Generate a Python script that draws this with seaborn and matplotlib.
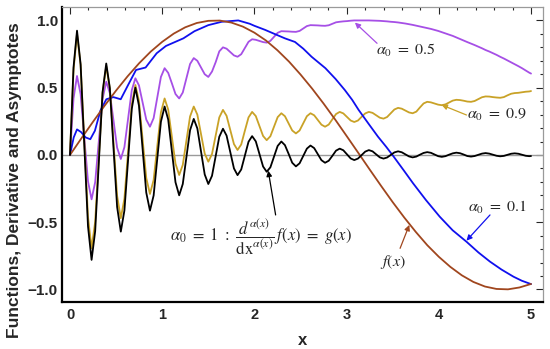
import numpy as np
import pandas as pd
import matplotlib
matplotlib.use("Agg")
import matplotlib.pyplot as plt
import seaborn as sns

# shared x grid for the oscillating curves (g(x), alpha0 = 0.9, alpha0 = 0.5)
x_osc = [0, 0.038, 0.076, 0.115, 0.155, 0.195, 0.234, 0.273, 0.313, 0.353,
         0.393, 0.432, 0.472, 0.511, 0.551, 0.59, 0.63, 0.67, 0.709, 0.748,
         0.788, 0.827, 0.867, 0.907, 0.946, 0.986, 1.026, 1.065, 1.105, 1.144,
         1.184, 1.223, 1.263, 1.302, 1.342, 1.381, 1.421, 1.461, 1.5, 1.54,
         1.58, 1.619, 1.659, 1.698, 1.738, 1.778,
         1.817, 1.857, 1.896, 1.936, 1.975, 2.015, 2.054, 2.094, 2.133, 2.173,
         2.212, 2.252, 2.292, 2.331, 2.371, 2.41, 2.45, 2.49, 2.529, 2.569,
         2.608, 2.648, 2.687, 2.727, 2.766, 2.806, 2.846, 2.885, 2.925, 2.964,
         3.004, 3.044, 3.083, 3.123, 3.162, 3.202, 3.241, 3.281, 3.32, 3.36,
         3.4, 3.439, 3.479, 3.518, 3.558, 3.598, 3.637, 3.677, 3.716, 3.756,
         3.795, 3.835, 3.874, 3.914, 3.953, 3.993, 4.032, 4.072, 4.111, 4.151,
         4.19, 4.23, 4.27, 4.309, 4.349, 4.388, 4.428, 4.468, 4.507, 4.547,
         4.586, 4.626, 4.665, 4.705, 4.744, 4.784, 4.823, 4.863, 4.902, 4.942,
         4.98, 5.0]

g_alpha1 = [0, 0.65, 0.924, 0.674, 0.072, -0.53, -0.78, -0.566, -0.05, 0.466,
            0.68, 0.497, 0.055, -0.387, -0.57, -0.413, -0.035, 0.343, 0.50, 0.366,
            0.043, -0.28, -0.414, -0.301, -0.027, 0.247, 0.36, 0.263, 0.03, -0.203,
            -0.30, -0.216, -0.016, 0.184, 0.268, 0.197, 0.026, -0.145, -0.216, -0.155,
            -0.01, 0.135, 0.195, 0.144, 0.022, -0.10,
            -0.15, -0.108, -0.005, 0.098, 0.14, 0.101, 0.008, -0.086, -0.125, -0.092,
            -0.013, 0.067, 0.10, 0.073, 0.008, -0.058, -0.085, -0.062, -0.008, 0.047,
            0.07, 0.051, 0.006, -0.039, -0.058, -0.043, -0.006, 0.032, 0.047, 0.035,
            0.005, -0.026, -0.038, -0.027, -0.001, 0.025, 0.036, 0.027, 0.005, -0.018,
            -0.027, -0.019, 0.0, 0.019, 0.027, 0.020, 0.005, -0.011, -0.018, -0.012,
            0.002, 0.015, 0.021, 0.016, 0.004, -0.009, -0.014, -0.009, 0.002, 0.012,
            0.017, 0.013, 0.003, -0.008, -0.012, -0.008, 0.001, 0.010, 0.014, 0.010,
            0.002, -0.006, -0.01, -0.007, 0.001, 0.009, 0.012, 0.009, 0.002, -0.006,
            -0.009, -0.008]

alpha09 = [0, 0.63, 0.90, 0.667, 0.103, -0.46, -0.694, -0.496, -0.017, 0.462,
           0.66, 0.494, 0.095, -0.304, -0.47, -0.325, 0.025, 0.375, 0.52, 0.401,
           0.115, -0.171, -0.29, -0.186, 0.065, 0.316, 0.42, 0.337, 0.136, -0.065,
           -0.149, -0.074, 0.106, 0.286, 0.36, 0.30, 0.155, 0.01, -0.05, 0.007,
           0.143, 0.279, 0.335, 0.291, 0.186, 0.081,
           0.037, 0.078, 0.179, 0.279, 0.32, 0.289, 0.215, 0.141, 0.11, 0.139,
           0.21, 0.281, 0.31, 0.288, 0.235, 0.182, 0.16, 0.182, 0.235, 0.288,
           0.31, 0.295, 0.26, 0.225, 0.21, 0.226, 0.265, 0.304, 0.32, 0.309,
           0.283, 0.256, 0.245, 0.256, 0.283, 0.309, 0.32, 0.313, 0.295, 0.277,
           0.27, 0.282, 0.31, 0.338, 0.35, 0.344, 0.33, 0.316, 0.31, 0.322,
           0.353, 0.383, 0.395, 0.391, 0.383, 0.374, 0.37, 0.376, 0.39, 0.404,
           0.41, 0.408, 0.403, 0.397, 0.395, 0.401, 0.415, 0.429, 0.435, 0.434,
           0.43, 0.427, 0.425, 0.430, 0.443, 0.455, 0.46, 0.462, 0.466, 0.470,
           0.472, 0.475]

alpha05 = [0, 0.42, 0.587, 0.452, 0.128, -0.196, -0.33, -0.202, 0.107, 0.416,
           0.545, 0.46, 0.257, 0.054, -0.03, 0.058, 0.27, 0.482, 0.57, 0.517,
           0.39, 0.263, 0.21, 0.274, 0.427, 0.58, 0.645, 0.61, 0.532, 0.453,
           0.42, 0.464, 0.57, 0.676, 0.72, 0.70, 0.65, 0.60, 0.58, 0.62,
           0.69, 0.77, 0.80, 0.79, 0.765, 0.74,
           0.73, 0.749, 0.795, 0.841, 0.86, 0.856, 0.848, 0.839, 0.835, 0.848,
           0.878, 0.908, 0.92, 0.919, 0.918, 0.916, 0.915, 0.922, 0.94, 0.958,
           0.965, 0.964, 0.963, 0.961, 0.96, 0.964, 0.975, 0.986, 0.99, 0.993,
           0.995, 0.998, 1.0, 1.0, 1.0, 1.0, 1.0, 0.999, 0.998, 0.997,
           0.995, 0.993, 0.99, 0.988, 0.985, 0.981, 0.977, 0.972, 0.967, 0.961,
           0.955, 0.949, 0.943, 0.937, 0.93, 0.922, 0.913, 0.904, 0.895, 0.885,
           0.874, 0.862, 0.85, 0.839, 0.828, 0.817, 0.805, 0.793, 0.78, 0.769,
           0.757, 0.744, 0.73, 0.717, 0.703, 0.689, 0.675, 0.66, 0.645, 0.628,
           0.612, 0.605]

# alpha0 = 0.1
x_a01 = [0, 0.04, 0.076, 0.12, 0.17, 0.22, 0.27, 0.33, 0.394, 0.47, 0.55, 0.63,
         0.716, 0.82, 0.94, 1.04, 1.14, 1.23, 1.35, 1.5, 1.645, 1.825, 1.95,
         2.0, 2.115, 2.2, 2.33, 2.44, 2.53, 2.62, 2.77, 2.88, 2.98, 3.06, 3.13,
         3.24, 3.34, 3.43, 3.51, 3.62, 3.72, 3.86, 4.01, 4.15, 4.30, 4.43,
         4.555, 4.68, 4.81, 4.9, 5.0]
alpha01 = [0, 0.13, 0.19, 0.17, 0.13, 0.117, 0.18, 0.33, 0.414, 0.43, 0.414, 0.52,
           0.632, 0.65, 0.756, 0.81, 0.84, 0.867, 0.92, 0.965, 0.99, 1.0, 0.975,
           0.96, 0.93, 0.905, 0.867, 0.84, 0.79, 0.73, 0.645, 0.565, 0.483, 0.41, 0.335,
           0.23, 0.136, 0.06, -0.012, -0.115, -0.21, -0.335, -0.459, -0.56, -0.645, -0.725,
           -0.793, -0.852, -0.905, -0.935, -0.96]

# f(x)
x_f = [0, 0.125, 0.25, 0.375, 0.5, 0.625, 0.75, 0.875, 1.0, 1.125, 1.25, 1.375,
       1.5, 1.625, 1.75, 1.875, 2.0, 2.125, 2.25, 2.375, 2.5, 2.625, 2.75, 2.875,
       3.0, 3.125, 3.25, 3.375, 3.5, 3.625, 3.75, 3.875, 4.0, 4.125, 4.25, 4.375,
       4.5, 4.625, 4.75, 4.875, 5.0]
f_vals = [0, 0.125, 0.247, 0.366, 0.479, 0.585, 0.682, 0.768, 0.841, 0.902, 0.949, 0.981,
          0.997, 0.999, 0.984, 0.954, 0.909, 0.851, 0.778, 0.694, 0.598, 0.494, 0.382, 0.264,
          0.141, 0.017, -0.108, -0.231, -0.351, -0.465, -0.572, -0.671, -0.757, -0.832, -0.895, -0.944,
          -0.978, -0.996, -0.999, -0.985, -0.959]

c_black = "#000000"
c_gold = "#c9a227"
c_purple = "#a64fe6"
c_blue = "#1010ee"
c_brown = "#a0461e"

sns.set_style("white")
plt.rcParams["mathtext.fontset"] = "stix"
plt.rcParams["font.family"] = ["Liberation Sans", "DejaVu Sans"]

osc = pd.DataFrame({"x": x_osc, "g": g_alpha1, "a09": alpha09, "a05": alpha05})

fig = plt.figure(figsize=(5.5, 3.49), dpi=100)
ax = fig.add_axes([0.1127, 0.1347, 0.8746, 0.8453])

ax.axhline(0, color="#9a9a9a", lw=1.0, zorder=1)

lw = 1.3
sns.lineplot(data=osc, x="x", y="a05", color=c_purple, lw=lw, sort=False, estimator=None, ax=ax)
sns.lineplot(data=osc, x="x", y="a09", color=c_gold, lw=lw, sort=False, estimator=None, ax=ax)
sns.lineplot(x=x_a01, y=alpha01, color=c_blue, lw=lw, sort=False, estimator=None, ax=ax)
sns.lineplot(x=x_f, y=f_vals, color=c_brown, lw=lw, sort=False, estimator=None, ax=ax)
sns.lineplot(data=osc, x="x", y="g", color=c_black, lw=lw, sort=False, estimator=None, ax=ax)

ax.set_xlim(-0.087, 5.13)
ax.set_ylim(-1.093, 1.10)
ax.set_xticks([0, 1, 2, 3, 4, 5])
ax.set_yticks([-1.0, -0.5, 0.0, 0.5, 1.0])
ax.set_xticks(np.arange(0, 5.01, 0.2), minor=True)
ax.set_yticks(np.arange(-1.0, 1.01, 0.1), minor=True)

ax.tick_params(which="both", direction="in", top=True, right=True, width=0.8)
ax.tick_params(which="major", length=5)
ax.tick_params(which="minor", length=2.5)
ax.tick_params(axis="x", labelsize=10.5, pad=4)
ax.tick_params(axis="y", labelsize=11, pad=3)
for lab in ax.get_xticklabels() + ax.get_yticklabels():
    lab.set_fontweight("bold")
for t in ax.xaxis.get_major_ticks() + ax.xaxis.get_minor_ticks():
    t.tick2line.set_color("#8c8c8c")
for t in ax.yaxis.get_major_ticks() + ax.yaxis.get_minor_ticks():
    t.tick2line.set_color("#8c8c8c")

for side in ["left", "bottom"]:
    ax.spines[side].set_color("black")
    ax.spines[side].set_linewidth(1.6)
for side in ["top", "right"]:
    ax.spines[side].set_color("#9a9a9a")
    ax.spines[side].set_linewidth(0.9)

ax.set_xlabel("x", fontsize=12, fontweight="bold", labelpad=8)
ax.set_ylabel("")
fig.text(15 / 550, 1 - 180 / 349, "Functions, Derivative and Asymptotes",
         rotation=90, fontsize=12.5, fontweight="bold", ha="center", va="center")

fs = 11.5
arrow = dict(arrowstyle="-|>", lw=0.9, mutation_scale=8, shrinkA=0, shrinkB=0)

ax.text(3.64, 0.78, r"$\alpha_0\ =\ 0.5$", fontsize=fs, ha="center", va="center")
ax.annotate("", xy=(3.09, 0.984), xytext=(3.33, 0.83),
            arrowprops=dict(arrow, color=c_purple))

ax.text(4.63, 0.297, r"$\alpha_0\ =\ 0.9$", fontsize=fs, ha="center", va="center")
ax.annotate("", xy=(4.03, 0.372), xytext=(4.30, 0.297),
            arrowprops=dict(arrow, color=c_gold))

ax.text(4.63, -0.387, r"$\alpha_0\ =\ 0.1$", fontsize=fs, ha="center", va="center")
ax.annotate("", xy=(4.30, -0.637), xytext=(4.555, -0.446),
            arrowprops=dict(arrow, color=c_blue))

ax.text(3.50, -0.795, r"$f(x)$", fontsize=fs, ha="center", va="center")
ax.annotate("", xy=(3.68, -0.52), xytext=(3.58, -0.694),
            arrowprops=dict(arrow, color=c_brown))

ax.text(2.07, -0.61, r"$\alpha_0\ =\ 1\ :\ \dfrac{d^{\alpha(x)}}{\mathrm{dx}^{\alpha(x)}}\,f(x)\ =\ g(x)$",
        fontsize=12, ha="center", va="center")
ax.annotate("", xy=(2.15, -0.117), xytext=(2.23, -0.446),
            arrowprops=dict(arrow, color=c_black))

fig.savefig("out.png", dpi=100)
